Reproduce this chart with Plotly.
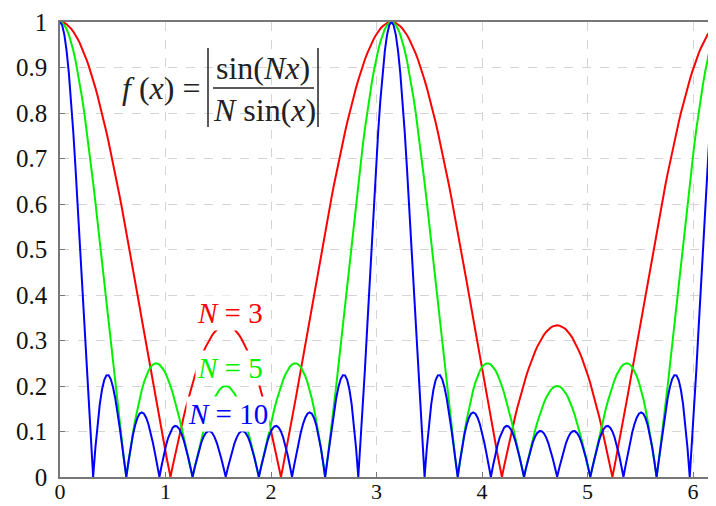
import numpy as np
import plotly.graph_objects as go

# Data: the chart plots f(x) = |sin(Nx) / (N sin x)| for these N
N_values = [3, 5, 10]
series_names = ["N = 3", "N = 5", "N = 10"]
series_colors = ["#ff0000", "#00f000", "#0000ff"]
x_start, x_end, n_samples = 0.0, 2 * np.pi, 301
x_ticks = [0, 1, 2, 3, 4, 5, 6]
y_ticks = [0, 0.1, 0.2, 0.3, 0.4, 0.5, 0.6, 0.7, 0.8, 0.9, 1]
y_tick_labels = ["0", "0.1", "0.2", "0.3", "0.4", "0.5", "0.6", "0.7", "0.8", "0.9", "1"]

x = np.linspace(x_start, x_end, n_samples)

fig = go.Figure()
for N, name, col in zip(N_values, series_names, series_colors):
    s = np.sin(x)
    with np.errstate(divide="ignore", invalid="ignore"):
        y = np.abs(np.sin(N * x) / (N * s))
    y = np.where(np.abs(s) < 1e-9, 1.0, y)
    fig.add_trace(go.Scatter(x=x, y=y, mode="lines", name=name,
                             line=dict(color=col, width=2), showlegend=False))

# page body has an 8px default margin -> figure is drawn 8px right/down
OFF = 8
W, H = 716 - OFF, 506 - OFF
L, R, T, B = 60 - OFF, 0, 22 - OFF, 29
PW, PH = W - L - R, H - T - B
SERIF = "'Liberation Serif', 'Times New Roman', serif"


def px(X):  # viewport pixel -> paper x
    return (X - OFF - L) / PW


def py(Y):  # viewport pixel -> paper y
    return (H - B - (Y - OFF)) / PH


ann = []
# series labels with white boxes
lab_pos = [(230, 313), (230, 368), (228, 414)]
for (cx, cy), name, col in zip(lab_pos, series_names, series_colors):
    n, rest = name.split(" = ")
    ann.append(dict(xref="paper", yref="paper", x=px(cx), y=py(cy),
                    text=f"<i>{n}</i> = {rest}", showarrow=False,
                    xanchor="center", yanchor="middle",
                    font=dict(family=SERIF, size=29, color=col),
                    bgcolor="white", borderpad=1))

# formula
FC = "#222"
ann.append(dict(xref="paper", yref="paper", x=px(120), y=py(88),
                text="<i>f</i> (<i>x</i>) =", showarrow=False,
                xanchor="left", yanchor="middle",
                font=dict(family=SERIF, size=32, color=FC)))
ann.append(dict(xref="paper", yref="paper", x=px(263), y=py(68),
                text="sin(<i>Nx</i>)", showarrow=False,
                xanchor="center", yanchor="middle",
                font=dict(family=SERIF, size=32, color=FC)))
ann.append(dict(xref="paper", yref="paper", x=px(264), y=py(110),
                text="<i>N</i> sin(<i>x</i>)", showarrow=False,
                xanchor="center", yanchor="middle",
                font=dict(family=SERIF, size=32, color=FC)))

shapes = [
    dict(type="line", xref="paper", yref="paper", x0=px(213), x1=px(314),
         y0=py(88), y1=py(88), line=dict(color=FC, width=1.5)),
    dict(type="line", xref="paper", yref="paper", x0=px(208), x1=px(208),
         y0=py(48), y1=py(127), line=dict(color=FC, width=1.5)),
    dict(type="line", xref="paper", yref="paper", x0=px(318), x1=px(318),
         y0=py(48), y1=py(127), line=dict(color=FC, width=1.5)),
]

fig.update_layout(
    width=W, height=H,
    margin=dict(l=L, r=R, t=T, b=B, pad=0),
    plot_bgcolor="white", paper_bgcolor="white",
    annotations=ann, shapes=shapes,
    font=dict(family=SERIF, size=25, color="#111"),
)
fig.update_xaxes(range=[0, PW / 105.5], tickvals=x_ticks, automargin=False,
                 showgrid=True, gridcolor="#d4d4d4", griddash="dash", gridwidth=1,
                 showline=True, linecolor="#777", linewidth=1.5, mirror=True,
                 ticks="inside", ticklen=5, tickcolor="#777", ticklabelstandoff=-6,
                 zeroline=False, tickfont=dict(family=SERIF, size=22, color="#111"))
fig.update_yaxes(range=[0, 1], tickvals=y_ticks, ticktext=y_tick_labels, automargin=False,
                 showgrid=True, gridcolor="#d4d4d4", griddash="dash", gridwidth=1,
                 showline=True, linecolor="#777", linewidth=1.5,
                 ticks="inside", ticklen=5, tickcolor="#777", ticklabelstandoff=6,
                 zeroline=False, tickfont=dict(family=SERIF, size=25, color="#111"))

fig.write_html("out.html")
